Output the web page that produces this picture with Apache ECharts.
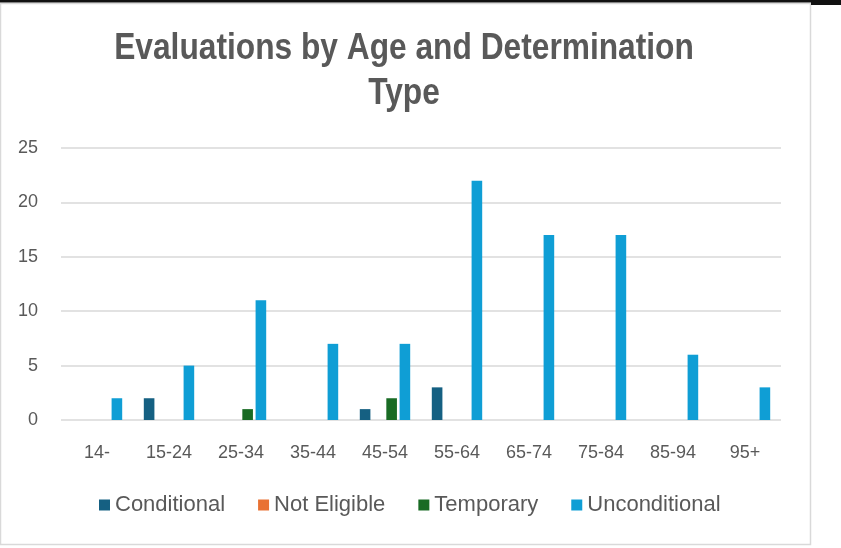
<!DOCTYPE html>
<html>
<head>
<meta charset="utf-8">
<script src="https://cdn.jsdelivr.net/npm/echarts@6/dist/echarts.min.js"></script>
<style>
html,body{margin:0;padding:0;background:#fff;}
#chart{width:841px;height:548px;}
</style>
</head>
<body>
<div id="chart"></div>
<script>
var categories = ['14-', '15-24', '25-34', '35-44', '45-54', '55-64', '65-74', '75-84', '85-94', '95+'];
var conditional   = [0, 2, 0, 0, 1, 3, 0, 0, 0, 0];
var notEligible   = [0, 0, 0, 0, 0, 0, 0, 0, 0, 0];
var temporary     = [0, 0, 1, 0, 2, 0, 0, 0, 0, 0];
var unconditional = [2, 5, 11, 7, 7, 22, 17, 17, 6, 3];
var yTicks = [0, 5, 10, 15, 20, 25];
var titleLines = ['Evaluations by Age and Determination', 'Type'];

var chart = echarts.init(document.getElementById('chart'));
var sans = '"Liberation Sans", Arial, sans-serif';
var txt = '#595959';
function mk(name, data, color) {
  return { name: name, type: 'bar', data: data, itemStyle: { color: color },
           barGap: '25%', barCategoryGap: '30%' };
}
function titleText(s, y) {
  return { type: 'text', x: 404, y: y, scaleX: 0.857, z: 10,
           style: { text: s, fontFamily: sans, fontWeight: 'bold', fontSize: 37, fill: txt,
                    align: 'center', verticalAlign: 'middle' } };
}
chart.setOption({
  animation: false,
  backgroundColor: '#ffffff',
  graphic: [
    { type: 'rect', shape: { x: 0.5, y: 3.5, width: 810, height: 541 }, style: { fill: '#ffffff', stroke: '#d9d9d9', lineWidth: 1.5 }, z: -10 },
    { type: 'rect', shape: { x: 0, y: 0, width: 841, height: 2.5 }, style: { fill: '#111111' }, z: -9 },
    { type: 'rect', shape: { x: 811, y: 0, width: 30, height: 5 }, style: { fill: '#111111' }, z: -9 },
    titleText(titleLines[0], 49),
    titleText(titleLines[1], 94)
  ],
  legend: {
    data: ['Conditional', 'Not Eligible', 'Temporary', 'Unconditional'],
    left: 94,
    top: 489,
    icon: 'rect',
    itemWidth: 11,
    itemHeight: 11,
    itemGap: 33,
    textStyle: { fontFamily: sans, fontSize: 22, color: txt }
  },
  grid: { left: 61, right: 60, top: 148, bottom: 128, containLabel: false },
  xAxis: {
    type: 'category',
    data: categories,
    axisLine: { show: false },
    axisTick: { show: false },
    axisLabel: { fontFamily: sans, fontSize: 18, color: txt, margin: 24 }
  },
  yAxis: {
    type: 'value',
    min: yTicks[0],
    max: yTicks[yTicks.length - 1],
    interval: 5,
    axisLine: { show: false },
    axisTick: { show: false },
    splitLine: { lineStyle: { color: '#d9d9d9', width: 1.5 } },
    axisLabel: { fontFamily: sans, fontSize: 18, color: txt, margin: 23 }
  },
  series: [
    mk('Conditional', conditional, '#156082'),
    mk('Not Eligible', notEligible, '#E97132'),
    mk('Temporary', temporary, '#196B24'),
    mk('Unconditional', unconditional, '#0F9ED5')
  ]
});
</script>
</body>
</html>
